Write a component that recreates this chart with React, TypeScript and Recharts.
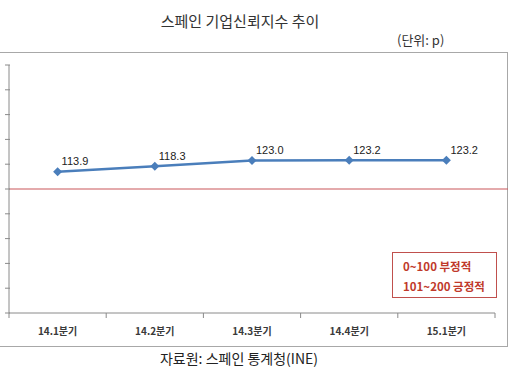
import React from 'react';
import { LineChart, Line, XAxis, YAxis, ReferenceLine, LabelList } from 'recharts';

const categories = ['14.1분기', '14.2분기', '14.3분기', '14.4분기', '15.1분기'];
const values = [113.9, 118.3, 123.0, 123.2, 123.2];
const yTicks = [0, 20, 40, 60, 80, 100, 120, 140, 160, 180, 200];
const baseline = 100;
const legendLines = ['0~100 부정적', '101~200 긍정적'];
const title = '스페인 기업신뢰지수 추이';
const unitText = '(단위: p)';
const sourceText = '자료원: 스페인 통계청(INE)';

const data = categories.map((c, i) => ({ name: c, value: values[i] }));

const W = 528;
const H = 369;
const MARGIN = { top: 65, right: 33, bottom: 26, left: 0 };
const Y_W = 9;
const X_H = 30;
const PLOT_W = W - MARGIN.right - MARGIN.left - Y_W;
const HALF_BAND = PLOT_W / categories.length / 2;

const LINE_COLOR = '#4a7ebb';
const AXIS_COLOR = '#8a8a8a';
const KFONT = '"Noto Sans CJK KR", "Noto Sans", sans-serif';

const XTick = (props: any) => {
  const { x, y, payload, index } = props;
  const isLast = index === categories.length - 1;
  return (
    <g>
      <line x1={x - HALF_BAND} x2={x - HALF_BAND} y1={y} y2={y + 5} stroke={AXIS_COLOR} />
      {isLast && <line x1={x + HALF_BAND} x2={x + HALF_BAND} y1={y} y2={y + 5} stroke={AXIS_COLOR} />}
      <text x={x} y={y + 21.5} textAnchor="middle" fontSize={10} fontWeight="bold" fill="#3a3a3a" fontFamily={KFONT}>
        {payload.value}
      </text>
    </g>
  );
};

const YTick = (props: any) => {
  const { x, y } = props;
  return <line x1={x - 4} x2={x + 1} y1={y} y2={y} stroke={AXIS_COLOR} />;
};

const Diamond = (props: any) => {
  const { cx, cy } = props;
  if (cx == null || cy == null) return null;
  const r = 4.5;
  return <path d={`M${cx},${cy - r}L${cx + r},${cy}L${cx},${cy + r}L${cx - r},${cy}Z`} fill={LINE_COLOR} />;
};

const ValueLabel = (props: any) => {
  const { x, y, value } = props;
  return (
    <text x={x + 4} y={y - 6.5} fontSize={11} fill="#222" fontFamily='"Liberation Sans", Arial, sans-serif'>
      {Number(value).toFixed(1)}
    </text>
  );
};

const RedLine = (props: any) => {
  const { x1, x2, y1, y2 } = props;
  return <line x1={x1} x2={x2 + 13} y1={y1} y2={y2} stroke="#c9575a" strokeWidth={1.2} />;
};

export default function App() {
  return (
    <div style={{ position: 'absolute', left: 0, top: 0, width: W, height: H, background: '#fff', overflow: 'hidden' }}>
      <div style={{ position: 'absolute', left: -1, top: 52, width: 509, height: 295, border: '1px solid #a8a8a8', boxSizing: 'border-box' }} />
      <div style={{ position: 'absolute', left: 0, top: 10, width: 480, textAlign: 'center', fontSize: 15, fontFamily: KFONT, color: '#333', lineHeight: '22px' }}>
        {title}
      </div>
      <div style={{ position: 'absolute', left: 397, top: 31, fontSize: 13, fontFamily: KFONT, color: '#333', lineHeight: '18px', whiteSpace: 'nowrap' }}>
        {unitText}
      </div>
      <div style={{ position: 'absolute', left: 0, top: 348, width: 478, textAlign: 'center', fontSize: 14, fontFamily: KFONT, color: '#222', lineHeight: '20px' }}>
        {sourceText}
      </div>
      <div style={{ position: 'absolute', left: 0, top: 0 }}>
        <LineChart width={W} height={H} data={data} margin={MARGIN}>
          <XAxis
            dataKey="name"
            height={X_H}
            padding={{ left: HALF_BAND, right: HALF_BAND }}
            axisLine={{ stroke: AXIS_COLOR }}
            tickLine={false}
            tickSize={0}
            tickMargin={0}
            tick={<XTick />}
            interval={0}
          />
          <YAxis
            width={Y_W}
            domain={[0, 200]}
            ticks={yTicks}
            interval={0}
            tick={<YTick />}
            tickLine={false}
            tickSize={0}
            tickMargin={0}
            axisLine={{ stroke: AXIS_COLOR }}
            allowDataOverflow
          />
          <ReferenceLine y={baseline} shape={<RedLine />} ifOverflow="visible" />
          <Line
            dataKey="value"
            stroke={LINE_COLOR}
            strokeWidth={2.5}
            dot={<Diamond />}
            activeDot={false}
            isAnimationActive={false}
          >
            <LabelList dataKey="value" content={<ValueLabel />} />
          </Line>
        </LineChart>
      </div>
      <div style={{ position: 'absolute', left: 392, top: 252, width: 105, height: 46, border: '1.5px solid #c0504d', boxSizing: 'border-box', fontFamily: KFONT, fontWeight: 'bold', fontSize: 11.5, color: '#c0392b', paddingLeft: 10, paddingTop: 3, lineHeight: '20px' }}>
        {legendLines.map((l) => (
          <div key={l} style={{ whiteSpace: 'nowrap' }}>{l}</div>
        ))}
      </div>
    </div>
  );
}
